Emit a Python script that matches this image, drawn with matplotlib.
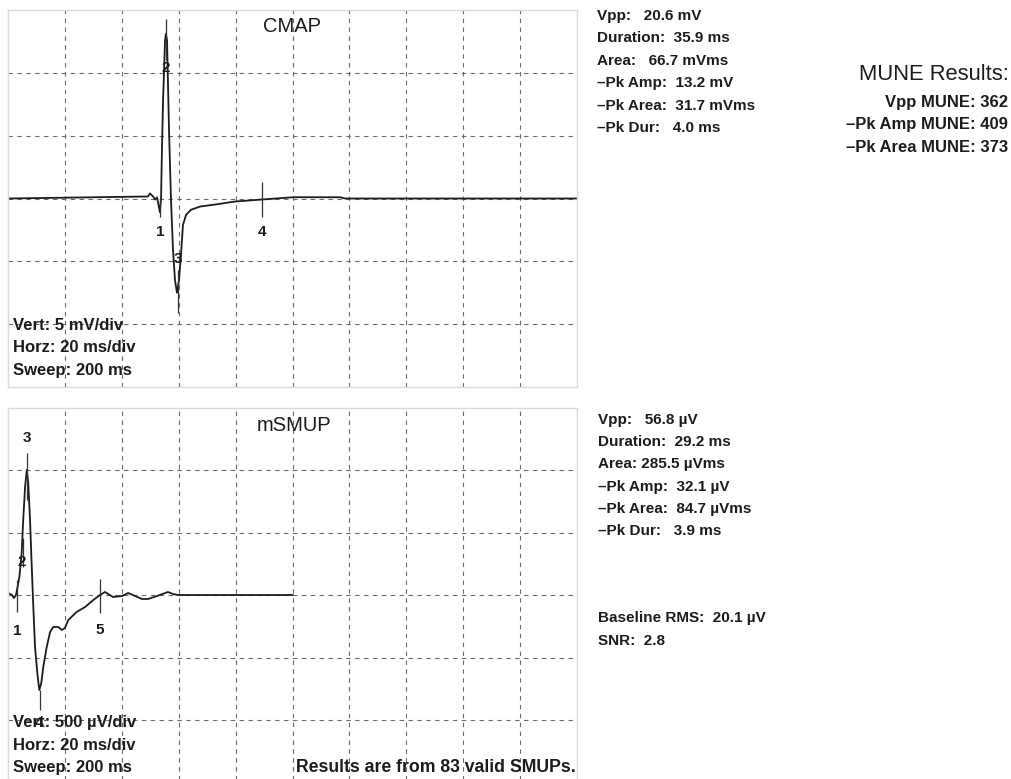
import numpy as np
import matplotlib.pyplot as plt

plt.rcParams['font.family'] = ['Liberation Sans', 'DejaVu Sans']

# CMAP trace (ms, mV)
cmap_t = [0, 49.2, 49.9, 51.0, 51.7, 52.4, 53.4, 53.8, 54.1, 54.5, 55.2, 55.5, 55.9,
          56.6, 57.3, 58.0, 58.7, 59.4, 60.1, 60.8, 61.5, 62.6, 64.3, 67.5, 72.8,
          79.8, 89.3, 100.2, 116.7, 118.5, 200]
cmap_v = [0, 0.16, 0.4, 0.16, -0.08, 0.08, -1.1, 0, 3.8, 7.8, 12.6, 13.1, 12.6,
          5.4, -0.16, -4.1, -6.5, -7.5, -6.5, -4.5, -2.1, -1.3, -0.9, -0.64, -0.48,
          -0.24, -0.08, 0.1, 0.1, 0, 0]
cmap_mark_t = [53.4, 55.5, 59.8, 89.3]
cmap_mark_lo = [-1.5, 11.0, -5.7, -1.5]
cmap_mark_hi = [0, 14.3, -9.1, 1.3]
cmap_lab = ['1', '2', '3', '4']
cmap_lab_v = [-2.7, 10.35, -4.8, -2.7]

# mSMUP trace (ms, uV)
smup_t = [0, 1.4, 2.1, 2.8, 3.3, 4.0, 4.8, 5.4, 6.0, 6.6, 7.1, 7.7, 8.3, 8.9, 9.5,
          10.3, 11.0, 11.7, 12.4, 13.6, 14.8, 15.9, 17.7, 18.9, 20.0, 21.2, 24.1,
          27.1, 30.0, 32.3, 34.1, 36.9, 40.1, 42.2, 43.9, 47.1, 49.2, 52.4, 56.2,
          58.0, 59.8, 100]
smup_v = [16, 0, -24, 0, 56, 144, 336, 624, 864, 1000, 904, 624, 256, -96, -416,
          -624, -760, -704, -576, -416, -296, -256, -256, -280, -264, -200, -136,
          -96, -40, 0, 24, -16, -8, 16, 0, -32, -32, -8, 24, 8, 0, 0]
smup_mark_t = [3.2, 5.2, 6.6, 11.3, 32.3]
smup_mark_lo = [-136, 224, 760, -760, -144]
smup_mark_hi = [120, 456, 1136, -920, 128]
smup_lab = ['1', '2', '3', '4', '5']
smup_lab_t = [3.2, 4.9, 6.6, 11.0, 32.3]
smup_lab_v = [-288, 264, 1256, -1024, -280]

cmap_stats = ['Vpp:   20.6 mV', 'Duration:  35.9 ms', 'Area:   66.7 mVms',
              '\u2013Pk Amp:  13.2 mV', '\u2013Pk Area:  31.7 mVms', '\u2013Pk Dur:   4.0 ms']
smup_stats = ['Vpp:   56.8 \u00b5V', 'Duration:  29.2 ms', 'Area: 285.5 \u00b5Vms',
              '\u2013Pk Amp:  32.1 \u00b5V', '\u2013Pk Area:  84.7 \u00b5Vms', '\u2013Pk Dur:   3.9 ms']
noise_stats = ['Baseline RMS:  20.1 \u00b5V', 'SNR:  2.8']
mune_stats = ['Vpp MUNE: 362', '\u2013Pk Amp MUNE: 409', '\u2013Pk Area MUNE: 373']

W, H = 1011, 779
ink = '#1c1c1c'
fig = plt.figure(figsize=(W / 100, H / 100), dpi=100, facecolor='white')


def panel(y_top, y_bot, ylim, ystep):
    ax = fig.add_axes([8 / W, 1 - y_bot / H, 569 / W, (y_bot - y_top) / H])
    ax.set_xlim(0, 200)
    ax.set_ylim(-ylim, ylim)
    ax.set_xticks(np.arange(20, 200, 20))
    ax.set_yticks(np.arange(-ylim + ystep, ylim, ystep))
    ax.tick_params(length=0, labelbottom=False, labelleft=False)
    ax.grid(True, color='#6a6a6a', lw=0.8, linestyle=(0, (4, 4)))
    for s in ax.spines.values():
        s.set_color('#dadada')
        s.set_linewidth(1.0)
    return ax


def px(x, y):
    return x / W, 1 - y / H


# top panel
ax1 = panel(10, 387, 15, 5)
ax1.plot(cmap_t, cmap_v, color=ink, lw=1.3)
ax1.vlines(cmap_mark_t, cmap_mark_lo, cmap_mark_hi, color='#333333', lw=0.9)
for t, v, s in zip(cmap_mark_t, cmap_lab_v, cmap_lab):
    ax1.text(t, v, s, ha='center', va='center', fontsize=11, fontweight='bold', color=ink)
ax1.text(0.5, 0.955, 'CMAP', transform=ax1.transAxes, ha='center', va='center',
         fontsize=14.5, color=ink)
for i, s in enumerate(['Vert: 5 mV/div', 'Horz: 20 ms/div', 'Sweep: 200 ms']):
    ax1.text(0.009, 0.164 - i * 0.06, s, transform=ax1.transAxes, ha='left', va='center',
             fontsize=12, fontweight='bold', color=ink)

# bottom panel
ax2 = panel(407.5, 782.5, 1500, 500)
ax2.plot(smup_t, smup_v, color=ink, lw=1.3)
ax2.vlines(smup_mark_t, smup_mark_lo, smup_mark_hi, color='#333333', lw=0.9)
for t, v, s in zip(smup_lab_t, smup_lab_v, smup_lab):
    ax2.text(t, v, s, ha='center', va='center', fontsize=11, fontweight='bold', color=ink)
ax2.text(0.503, 0.953, 'mSMUP', transform=ax2.transAxes, ha='center', va='center',
         fontsize=14.5, color=ink)
for i, s in enumerate(['Vert: 500 \u00b5V/div', 'Horz: 20 ms/div', 'Sweep: 200 ms']):
    ax2.text(0.009, 0.159 - i * 0.059, s, transform=ax2.transAxes, ha='left', va='center',
             fontsize=12, fontweight='bold', color=ink)
ax2.text(0.997, 0.039, 'Results are from 83 valid SMUPs.', transform=ax2.transAxes,
         ha='right', va='center', fontsize=12.7, fontweight='bold', color=ink)

# side texts
for i, s in enumerate(cmap_stats):
    fig.text(*px(597, 16 + i * 22.4), s, ha='left', va='center', fontsize=11,
             fontweight='bold', color=ink)
for i, s in enumerate(smup_stats):
    fig.text(*px(598, 420 + i * 22.2), s, ha='left', va='center', fontsize=11,
             fontweight='bold', color=ink)
for i, s in enumerate(noise_stats):
    fig.text(*px(598, 618 + i * 23), s, ha='left', va='center', fontsize=11,
             fontweight='bold', color=ink)
fig.text(*px(1009, 74), 'MUNE Results:', ha='right', va='center', fontsize=15.8, color=ink)
for i, s in enumerate(mune_stats):
    fig.text(*px(1008, 103 + i * 22), s, ha='right', va='center', fontsize=12,
             fontweight='bold', color=ink)

fig.savefig('out.png', dpi=100, facecolor='white')
